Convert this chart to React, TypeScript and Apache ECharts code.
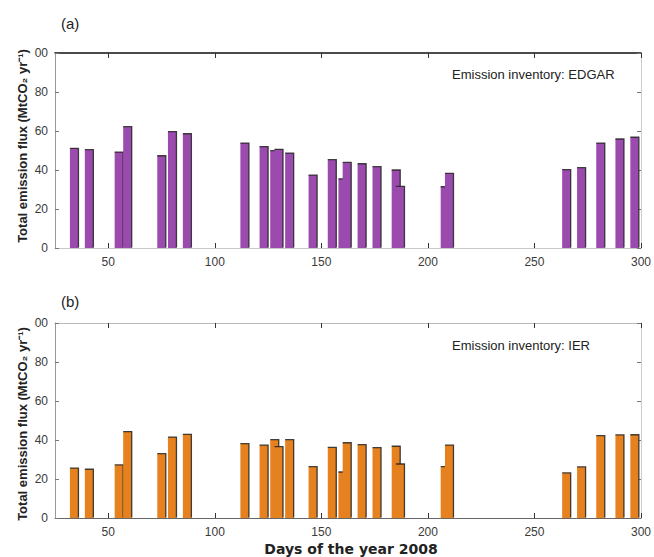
import React, { useEffect, useRef } from "react";
import * as echarts from "echarts";

const days = [34, 41, 55, 59, 75, 80, 87, 114, 123, 128, 130, 135, 146, 155, 160, 162, 169, 176, 185, 187, 208, 210, 265, 272, 281, 290, 297];
const edgarValues = [51.1, 50.4, 49.2, 62.2, 47.3, 59.7, 58.6, 53.8, 52.0, 49.9, 50.6, 48.7, 37.4, 45.3, 35.5, 43.9, 43.2, 41.7, 40.0, 31.6, 31.4, 38.3, 40.2, 41.2, 53.8, 55.9, 56.8];
const ierValues = [25.6, 25.0, 27.2, 44.3, 33.0, 41.5, 42.9, 38.1, 37.4, 40.2, 36.6, 40.2, 26.3, 36.2, 23.6, 38.6, 37.6, 36.1, 36.8, 27.7, 26.3, 37.4, 23.1, 26.2, 42.2, 42.6, 42.7];
const xTicks = [50, 100, 150, 200, 250, 300];

const PURPLE = "#9b4bad";
const ORANGE = "#e5821f";
const BAR_HALF = 2;
const FONT = "Liberation Sans, Arial, sans-serif";

function makeRender(color: string) {
  return (params: any, api: any) => {
    const x = api.value(0);
    const y = api.value(1);
    const p0 = api.coord([x - BAR_HALF, 0]);
    const p1 = api.coord([x + BAR_HALF, y]);
    const left = p0[0];
    const right = p1[0];
    const top = p1[1];
    const bottom = p0[1];
    return {
      type: "group",
      children: [
        {
          type: "rect",
          shape: { x: left, y: top, width: right - left, height: bottom - top },
          style: { fill: color },
        },
        {
          type: "polyline",
          shape: { points: [[left, top], [right, top], [right, bottom - 0.5]] },
          style: { stroke: "#222", lineWidth: 1.3, fill: null, opacity: 0.85 },
        },
      ],
    };
  };
}

export default function App() {
  const ref = useRef<HTMLDivElement>(null);
  useEffect(() => {
    if (!ref.current) return;
    const chart = echarts.init(ref.current, null, { renderer: "svg" });
    const gridLeft = 55;
    const gridW = 588;
    const gridH = 195;
    const tops = [53, 323];
    const labelStyle = { color: "#3a3a3a", fontSize: 12, fontFamily: FONT };
    const xAxes: any[] = [];
    const yAxes: any[] = [];
    tops.forEach((t, i) => {
      xAxes.push({
        type: "value",
        gridIndex: i,
        min: 25,
        max: 300,
        position: "bottom",
        axisLine: { show: true, onZero: false, lineStyle: { color: i === 0 ? "#c8c8c8" : "#666", width: 1 } },
        axisTick: { show: true, inside: true, length: 5, customValues: xTicks, lineStyle: { color: "#333" } },
        axisLabel: { show: true, customValues: xTicks, margin: 8, ...labelStyle },
        splitLine: { show: false },
      });
      xAxes.push({
        type: "value",
        gridIndex: i,
        min: 25,
        max: 300,
        position: "top",
        axisLine: { show: true, onZero: false, lineStyle: { color: i === 0 ? "#111" : "#bbb", width: i === 0 ? 1.5 : 1 } },
        axisTick: { show: true, inside: true, length: 5, customValues: xTicks, lineStyle: { color: "#333" } },
        axisLabel: { show: false },
        splitLine: { show: false },
      });
      yAxes.push({
        type: "value",
        gridIndex: i,
        min: 0,
        max: 100,
        interval: 20,
        position: "left",
        axisLine: { show: true, onZero: false, lineStyle: { color: "#999" } },
        axisTick: { show: true, inside: true, length: 4, lineStyle: { color: "#777" } },
        axisLabel: {
          show: true,
          margin: 7,
          ...labelStyle,
          formatter: (v: number) => (v === 100 ? "00" : String(v)),
        },
        splitLine: { show: false },
      });
      yAxes.push({
        type: "value",
        gridIndex: i,
        min: 0,
        max: 100,
        interval: 20,
        position: "right",
        axisLine: { show: true, onZero: false, lineStyle: { color: "#ccc" } },
        axisTick: { show: true, inside: true, length: 4, lineStyle: { color: "#777" } },
        axisLabel: { show: false },
        splitLine: { show: false },
      });
    });
    const option: any = {
      animation: false,
      grid: tops.map((t) => ({ left: gridLeft, top: t, width: gridW, height: gridH, containLabel: false })),
      xAxis: xAxes,
      yAxis: yAxes,
      series: [
        {
          type: "custom",
          xAxisIndex: 0,
          yAxisIndex: 0,
          clip: true,
          renderItem: makeRender(PURPLE),
          data: days.map((d, k) => [d, edgarValues[k]]),
        },
        {
          type: "custom",
          xAxisIndex: 2,
          yAxisIndex: 2,
          clip: true,
          renderItem: makeRender(ORANGE),
          data: days.map((d, k) => [d, ierValues[k]]),
        },
      ],
      graphic: [
        { type: "text", x: 61, y: 23, style: { text: "(a)", fontSize: 15, fill: "#222", fontFamily: FONT, textVerticalAlign: "middle" } },
        { type: "text", x: 61, y: 301, style: { text: "(b)", fontSize: 15, fill: "#222", fontFamily: FONT, textVerticalAlign: "middle" } },
        { type: "text", x: 452, y: 74, style: { text: "Emission inventory: EDGAR", fontSize: 13, fill: "#222", fontFamily: FONT, textVerticalAlign: "middle" } },
        { type: "text", x: 452, y: 345, style: { text: "Emission inventory: IER", fontSize: 13, fill: "#222", fontFamily: FONT, textVerticalAlign: "middle" } },
        {
          type: "text", x: 22, y: 146, rotation: Math.PI / 2,
          style: { text: "Total emission flux (MtCO₂ yr⁻¹)", fontSize: 13, fontWeight: "bold", fill: "#222", fontFamily: FONT, textAlign: "center", textVerticalAlign: "middle" },
        },
        {
          type: "text", x: 22, y: 424, rotation: Math.PI / 2,
          style: { text: "Total emission flux (MtCO₂ yr⁻¹)", fontSize: 13, fontWeight: "bold", fill: "#222", fontFamily: FONT, textAlign: "center", textVerticalAlign: "middle" },
        },
        {
          type: "text", x: 351, y: 549,
          style: { text: "Days of the year 2008", fontSize: 14, fontWeight: "bold", fill: "#222", fontFamily: "DejaVu Sans, sans-serif", textAlign: "center", textVerticalAlign: "middle" },
        },
      ],
    };
    chart.setOption(option);
    return () => chart.dispose();
  }, []);
  return <div ref={ref} style={{ position: "fixed", left: 0, top: 0, width: 654, height: 557, background: "#fff" }} />;
}
